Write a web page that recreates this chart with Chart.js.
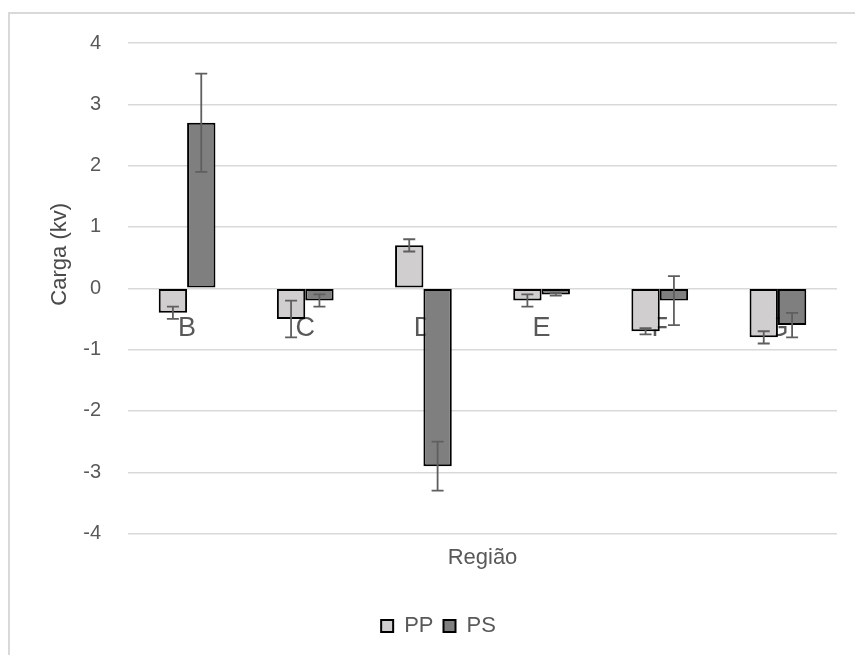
<!DOCTYPE html>
<html>
<head>
<meta charset="utf-8">
<script src="https://cdn.jsdelivr.net/npm/chart.js@4/dist/chart.umd.min.js"></script>
<style>
  html, body { margin: 0; padding: 0; width: 855px; height: 655px; overflow: hidden; background: #fff; }
  #frame { position: absolute; left: 8px; top: 12px; width: 900px; height: 700px;
           border-left: 2px solid #d9d9d9; border-top: 2px solid #d9d9d9; }
  #wrap { position: absolute; left: 0; top: 0; width: 880px; height: 655px; }
</style>
</head>
<body>
<div id="frame"></div>
<div id="wrap"><canvas id="c" width="880" height="655"></canvas></div>
<script>
const categories = ['B', 'C', 'D', 'E', 'F', 'G'];
const seriesNames = ['PP', 'PS'];
const ppValues = [-0.4, -0.5, 0.7, -0.2, -0.7, -0.8];
const psValues = [2.7, -0.2, -2.9, -0.1, -0.2, -0.6];
const ppErrors = [0.1, 0.3, 0.1, 0.1, 0.05, 0.1];
const psErrors = [0.8, 0.1, 0.4, 0.02, 0.4, 0.2];
const yTickValues = [-4, -3, -2, -1, 0, 1, 2, 3, 4];
const yTitle = 'Carga (kv)';
const xTitle = 'Região';

const FONT = "'Liberation Sans', Arial, sans-serif";
const TEXT = '#595959';

const errorBars = {
  id: 'errorBars',
  afterDatasetsDraw(chart) {
    const ctx = chart.ctx;
    const yScale = chart.scales.y;
    ctx.save();
    ctx.strokeStyle = '#5f5f5f';
    ctx.lineWidth = 1.8;
    chart.data.datasets.forEach((ds, di) => {
      const meta = chart.getDatasetMeta(di);
      meta.data.forEach((bar, i) => {
        const v = ds.data[i], e = ds.errors[i];
        const x = bar.x;
        const yTop = yScale.getPixelForValue(v + e);
        const yBot = yScale.getPixelForValue(v - e);
        ctx.beginPath();
        ctx.moveTo(x, yTop); ctx.lineTo(x, yBot);
        ctx.moveTo(x - 6, yTop); ctx.lineTo(x + 6, yTop);
        ctx.moveTo(x - 6, yBot); ctx.lineTo(x + 6, yBot);
        ctx.stroke();
      });
    });
    ctx.restore();
  }
};

// Y axis title, placed like the original (left of the ticks, a little above the plot centre)
const yAxisTitle = {
  id: 'yAxisTitle',
  afterDraw(chart) {
    const ctx = chart.ctx;
    const area = chart.chartArea;
    ctx.save();
    ctx.translate(area.left - 68, (area.top + area.bottom) / 2 - 34);
    ctx.rotate(-Math.PI / 2);
    ctx.font = "22px " + FONT;
    ctx.fillStyle = '#4a4a4a';
    ctx.textAlign = 'center';
    ctx.textBaseline = 'middle';
    ctx.fillText(yTitle, 0, 0);
    ctx.restore();
  }
};

new Chart(document.getElementById('c'), {
  type: 'bar',
  data: {
    labels: categories,
    datasets: [
      { label: seriesNames[0], data: ppValues, errors: ppErrors,
        backgroundColor: '#d0cece', borderColor: '#000000', borderWidth: 2, borderSkipped: false },
      { label: seriesNames[1], data: psValues, errors: psErrors,
        backgroundColor: '#7f7f7f', borderColor: '#000000', borderWidth: 2, borderSkipped: false }
    ]
  },
  options: {
    responsive: false,
    animation: false,
    events: [],
    datasets: { bar: { categoryPercentage: 0.48, barPercentage: 1.0 } },
    layout: { padding: { left: 40, right: 43, top: 43, bottom: 8 } },
    scales: {
      y: {
        min: -4, max: 4,
        afterBuildTicks(scale) { scale.ticks = yTickValues.map(v => ({ value: v })); },
        afterFit(scale) { scale.width = 88; },
        ticks: { color: TEXT, font: { family: FONT, size: 20 }, padding: 27 },
        grid: { color: '#d9d9d9', lineWidth: 1.5, drawTicks: false },
        border: { display: false },
        title: { display: false }
      },
      x: {
        position: { y: 0 },
        z: 1,
        ticks: { color: TEXT, font: { family: FONT, size: 27 }, padding: 24 },
        grid: { display: false, drawTicks: false },
        border: { display: false }
      },
      x2: {
        type: 'category',
        position: 'bottom',
        ticks: { display: false },
        grid: { display: false, drawTicks: false },
        border: { display: false },
        title: { display: true, text: xTitle, color: TEXT,
                 font: { family: FONT, size: 22 }, padding: { top: 11, bottom: 34 } }
      }
    },
    plugins: {
      tooltip: { enabled: false },
      legend: {
        position: 'bottom',
        labels: { color: TEXT, font: { family: FONT, size: 22 }, boxWidth: 12, boxHeight: 12, padding: 10 }
      }
    }
  },
  plugins: [errorBars, yAxisTitle]
});
</script>
</body>
</html>
